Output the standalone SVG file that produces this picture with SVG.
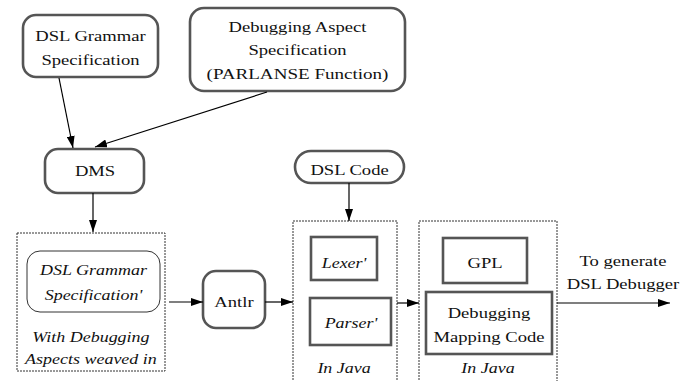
<svg xmlns="http://www.w3.org/2000/svg" width="694" height="381" viewBox="0 0 694 381">
<defs>
<marker id="ah" markerWidth="12" markerHeight="8" refX="12" refY="4" orient="auto" markerUnits="userSpaceOnUse">
<path d="M0,0 L12,4 L0,8 Z" fill="#000"/>
</marker>
<style>
.node{fill:#fff;stroke:#555;stroke-width:2.6}
.inner{fill:#fff;stroke:#333;stroke-width:1}
.group{fill:none;stroke:#333;stroke-width:1;stroke-dasharray:2 1}
.conn{fill:none;stroke:#000;stroke-width:1.2;marker-end:url(#ah)}
.t{font-size:15.5px;fill:#111;text-anchor:middle}
.it{font-style:italic}
</style>
</defs>
<rect width="694" height="381" fill="#fff"/>
<g font-family="'Liberation Serif', 'Times New Roman', serif">

<g id="dsl-grammar">
<rect class="node" x="23" y="15" width="135" height="62" rx="13"/>
<text class="t" transform="scale(1.2 1)" x="75.4" y="41">DSL Grammar</text>
<text class="t" transform="scale(1.2 1)" x="75.4" y="65">Specification</text>
</g>

<g id="debug-aspect">
<rect class="node" x="190" y="8" width="215" height="83" rx="14"/>
<text class="t" transform="scale(1.2 1)" x="247.9" y="32">Debugging Aspect</text>
<text class="t" transform="scale(1.2 1)" x="247.9" y="55.5">Specification</text>
<text class="t" transform="scale(1.23 1)" x="241.9" y="79">(PARLANSE Function)</text>
</g>

<g id="dms">
<rect class="node" x="45" y="149" width="99" height="44" rx="13"/>
<text class="t" transform="scale(1.2 1)" x="79.2" y="176">DMS</text>
</g>

<g id="dsl-code">
<rect class="node" x="295" y="151" width="109" height="32" rx="16"/>
<text class="t" transform="scale(1.2 1)" x="291.3" y="175">DSL Code</text>
</g>

<g id="grammar-box">
<rect class="group" x="17" y="233" width="148" height="138"/>
<rect class="inner" x="27" y="251" width="133" height="61" rx="13"/>
<text class="t it" transform="scale(1.16 1)" x="80.6" y="275">DSL Grammar</text>
<text class="t it" transform="scale(1.16 1)" x="80.6" y="300">Specification'</text>
<text class="t it" transform="scale(1.16 1)" x="78.4" y="342">With Debugging</text>
<text class="t it" transform="scale(1.16 1)" x="78.4" y="364">Aspects weaved in</text>
</g>

<g id="antlr">
<rect class="node" x="203" y="271" width="62" height="57" rx="13"/>
<text class="t" transform="scale(1.2 1)" x="195" y="307">Antlr</text>
</g>

<g id="java-parser">
<path class="group" d="M293,383 V221 H397 V383"/>
<rect class="node" x="311" y="237" width="66" height="43"/>
<text class="t it" transform="scale(1.16 1)" x="296.6" y="268">Lexer'</text>
<rect class="node" x="310" y="298" width="81" height="47"/>
<text class="t it" transform="scale(1.16 1)" x="302.6" y="328">Parser'</text>
<text class="t it" transform="scale(1.16 1)" x="296.6" y="373">In Java</text>
</g>

<g id="java-gpl">
<path class="group" d="M419,383 V221 H557 V383"/>
<rect class="node" x="443" y="238" width="84" height="45"/>
<text class="t" transform="scale(1.2 1)" x="404.2" y="268">GPL</text>
<rect class="node" x="426" y="292" width="126" height="62"/>
<text class="t" transform="scale(1.2 1)" x="407.5" y="318">Debugging</text>
<text class="t" transform="scale(1.2 1)" x="407.5" y="342">Mapping Code</text>
<text class="t it" transform="scale(1.16 1)" x="420.7" y="373">In Java</text>
</g>

<g id="output-label">
<text class="t" transform="scale(1.2 1)" x="519.2" y="266">To generate</text>
<text class="t" transform="scale(1.2 1)" x="519.2" y="289">DSL Debugger</text>
</g>
</g>

<g id="connectors">
<line class="conn" x1="59" y1="78" x2="73" y2="148"/>
<line class="conn" x1="267" y1="92" x2="95" y2="147"/>
<line class="conn" x1="93" y1="193" x2="93" y2="232"/>
<line class="conn" x1="349" y1="183" x2="349" y2="221"/>
<line class="conn" x1="169" y1="302" x2="203" y2="302"/>
<line class="conn" x1="265" y1="302" x2="293" y2="302"/>
<line class="conn" x1="397" y1="303" x2="419" y2="303"/>
<line class="conn" x1="557" y1="303" x2="670" y2="303"/>
</g>
</svg>
